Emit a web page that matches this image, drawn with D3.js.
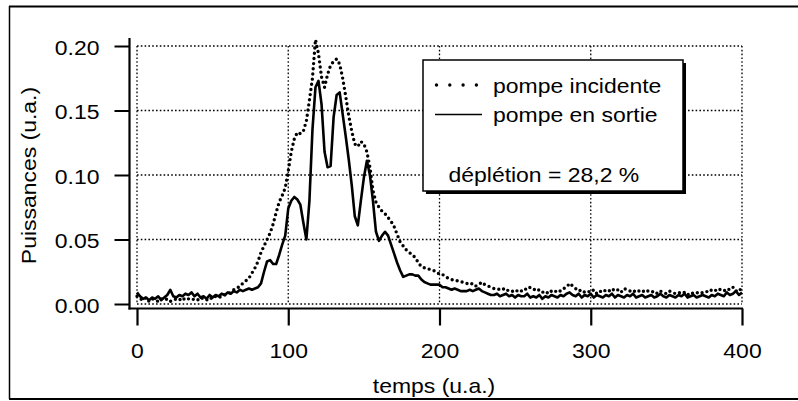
<!DOCTYPE html>
<html><head><meta charset="utf-8">
<script src="https://cdn.jsdelivr.net/npm/d3@7"></script>
<style>
body{margin:0;background:#fff}
svg{display:block;background:#fff}
text{font-family:"Liberation Sans",Arial,Helvetica,sans-serif;fill:#000}
</style>
</head><body><svg id="c" width="798" height="401"></svg>
<script>
// ---- data ----
const temps = [
  0,2,4,6,8,10,12,14,16,18,20,22,24,26,28,30,32,34,36,38,
  40,42,44,46,48,50,52,54,56,58,60,62,64,66,68,70,72,74,76,78,
  80,82,84,86,88,90,92,94,96,98,100,102,104,106,108,110,112,114,116,118,
  120,122,124,126,128,130,132,134,136,138,140,142,144,146,148,150,152,154,156,158,
  160,162,164,166,168,170,172,174,176,178,180,182,184,186,188,190,192,194,196,198,
  200,202,204,206,208,210,212,214,216,218,220,222,224,226,228,230,232,234,236,238,
  240,242,244,246,248,250,252,254,256,258,260,262,264,266,268,270,272,274,276,278,
  280,282,284,286,288,290,292,294,296,298,300,302,304,306,308,310,312,314,316,318,
  320,322,324,326,328,330,332,334,336,338,340,342,344,346,348,350,352,354,356,358,
  360,362,364,366,368,370,372,374,376,378,380,382,384,386,388,390,392,394,396,398,
  400
];
const pompeIncidente = [
  .006,.004,.003,.005,.002,.004,.003,.002,.004,.003,
  .004,.002,.003,.004,.003,.005,.003,.004,.003,.004,
  .003,.005,.004,.003,.005,.004,.006,.005,.006,.007,
  .008,.009,.011,.012,.014,.016,.018,.020,.024,.028,
  .033,.040,.045,.050,.055,.062,.071,.079,.084,.090,
  .103,.118,.128,.133,.132,.134,.142,.158,.175,.205,
  .194,.176,.168,.178,.185,.188,.190,.186,.175,.161,
  .146,.134,.124,.122,.126,.124,.118,.106,.088,.079,
  .075,.072,.070,.067,.064,.060,.054,.048,.045,.042,
  .040,.038,.036,.032,.029,.028,.027,.027,.026,.025,
  .023,.023,.021,.020,.019,.018,.018,.017,.017,.016,
  .015,.016,.014,.015,.017,.015,.014,.013,.012,.012,
  .011,.012,.010,.011,.010,.009,.011,.010,.012,.011,
  .013,.012,.010,.011,.009,.010,.008,.010,.009,.011,
  .010,.012,.013,.016,.014,.012,.010,.011,.009,.010,
  .009,.011,.008,.010,.009,.011,.010,.012,.010,.011,
  .009,.012,.011,.010,.009,.011,.010,.009,.011,.010,
  .009,.010,.008,.010,.009,.008,.010,.009,.008,.009,
  .008,.009,.007,.009,.008,.009,.008,.009,.010,.009,
  .011,.010,.012,.011,.010,.012,.011,.013,.010,.012,
  .010
];
const pompeSortie = [
  .009,.006,.004,.005,.003,.005,.004,.006,.003,.005,
  .007,.011,.006,.005,.007,.006,.008,.007,.009,.006,
  .008,.005,.006,.004,.007,.005,.007,.006,.008,.007,
  .009,.008,.010,.009,.011,.010,.011,.012,.011,.012,
  .013,.016,.025,.033,.034,.031,.031,.038,.046,.053,
  .074,.080,.083,.081,.077,.063,.050,.080,.135,.168,
  .173,.155,.118,.106,.107,.145,.162,.164,.147,.130,
  .112,.092,.068,.061,.080,.098,.111,.100,.080,.056,
  .049,.053,.056,.053,.046,.039,.032,.026,.021,.022,
  .023,.023,.022,.022,.019,.017,.016,.015,.015,.015,
  .015,.013,.013,.012,.011,.012,.011,.010,.010,.010,
  .011,.010,.011,.012,.010,.009,.008,.007,.007,.008,
  .006,.007,.008,.006,.007,.005,.007,.006,.006,.008,
  .005,.006,.005,.007,.004,.006,.005,.007,.006,.005,
  .007,.006,.008,.009,.007,.006,.008,.005,.007,.006,
  .008,.005,.007,.006,.005,.007,.006,.008,.005,.007,
  .006,.005,.007,.006,.008,.005,.006,.007,.005,.006,
  .007,.005,.006,.008,.006,.005,.007,.006,.005,.007,
  .006,.008,.005,.006,.007,.005,.006,.007,.006,.005,
  .007,.006,.008,.007,.006,.009,.007,.008,.010,.007,
  .009
];
const xTicks = [0, 100, 200, 300, 400];
const yTicks = [0, 0.05, 0.10, 0.15, 0.20];
const seriesNames = ["pompe incidente", "pompe en sortie"];
const noteText = "déplétion = 28,2 %";
const xTitle = "temps (u.a.)";
const yTitle = "Puissances (u.a.)";

// ---- drawing ----
const svg = d3.select("#c");
const FS = 20.5, SX = 1.12;
const x = d3.scaleLinear().domain([0, 400]).range([137, 742]);
const y = d3.scaleLinear().domain([0, 0.2]).range([304, 46]);

function label(txt, tx, ty, anchor, rot) {
  svg.append("text")
    .attr("transform", `translate(${tx},${ty})${rot ? ` rotate(${rot})` : ""} scale(${SX},1)`)
    .attr("text-anchor", anchor)
    .style("font-size", FS + "px")
    .text(txt);
}

// outer frame
const frame = svg.append("g").attr("stroke", "#000").attr("fill", "none");
frame.append("line").attr("x1", 9).attr("x2", 798).attr("y1", 6.5).attr("y2", 6.5).attr("stroke-width", 2);
frame.append("line").attr("x1", 9.5).attr("x2", 9.5).attr("y1", 6).attr("y2", 399).attr("stroke-width", 1.5);
frame.append("line").attr("x1", 9).attr("x2", 798).attr("y1", 399).attr("y2", 399).attr("stroke-width", 2);

// dotted grid
const grid = svg.append("g").attr("stroke", "#000").attr("stroke-width", 1.3).attr("stroke-dasharray", "1.6,2.2");
grid.selectAll(".gx").data(xTicks).join("line")
  .attr("x1", d => x(d)).attr("x2", d => x(d)).attr("y1", y(0.2)).attr("y2", y(0));
grid.selectAll(".gy").data(yTicks).join("line")
  .attr("y1", d => y(d)).attr("y2", d => y(d)).attr("x1", x(0)).attr("x2", x(400));

// y axis
const yAxis = svg.append("g").attr("transform", "translate(129.5,0)")
  .call(d3.axisLeft(y).tickValues(yTicks).tickSize(15).tickSizeOuter(0).tickPadding(15).tickFormat(d3.format(".2f")));
yAxis.attr("font-size", null).attr("font-family", null);
yAxis.select(".domain").remove();
yAxis.selectAll(".tick line").attr("stroke-width", 2);
yAxis.selectAll(".tick text").each(function () {
  const t = d3.select(this); const xx = +t.attr("x");
  t.attr("x", null).attr("dy", null).attr("fill", null)
   .attr("transform", `translate(${xx},8) scale(${SX},1)`).style("font-size", FS + "px");
});
svg.append("line").attr("x1", 129.5).attr("x2", 129.5).attr("y1", 38).attr("y2", 309.5)
  .attr("stroke", "#000").attr("stroke-width", 2.2);

// x axis
const xAxis = svg.append("g").attr("transform", "translate(0,308.5)")
  .call(d3.axisBottom(x).tickValues(xTicks).tickSize(17).tickSizeOuter(0).tickFormat(d3.format("d")));
xAxis.attr("font-size", null).attr("font-family", null);
xAxis.select(".domain").remove();
xAxis.selectAll(".tick line").attr("stroke-width", 2.2);
xAxis.selectAll(".tick text").each(function () {
  const t = d3.select(this);
  t.attr("y", null).attr("dy", null).attr("fill", null)
   .attr("transform", `translate(0,49.5) scale(${SX},1)`).style("font-size", FS + "px");
});
svg.append("line").attr("x1", 128.5).attr("x2", 743).attr("y1", 308.5).attr("y2", 308.5)
  .attr("stroke", "#000").attr("stroke-width", 2.2);

// series
const lineGen = d3.line().x((d, i) => x(temps[i])).y(d => y(d));
svg.append("path").datum(pompeSortie).attr("d", lineGen)
  .attr("fill", "none").attr("stroke", "#000").attr("stroke-width", 2.6).attr("stroke-linejoin", "round");
svg.append("path").datum(pompeIncidente).attr("d", lineGen)
  .attr("fill", "none").attr("stroke", "#000").attr("stroke-width", 3.4)
  .attr("stroke-linecap", "round").attr("stroke-dasharray", "0,5.2");

// titles
label(xTitle, 434, 393, "middle");
label(yTitle, 36, 175.5, "middle", -90);

// legend
const lg = svg.append("g");
lg.append("rect").attr("x", 426).attr("y", 63).attr("width", 260).attr("height", 131).attr("fill", "#000");
lg.append("rect").attr("x", 423).attr("y", 60).attr("width", 260).attr("height", 131)
  .attr("fill", "#fff").attr("stroke", "#000").attr("stroke-width", 1.5);
lg.append("line").attr("x1", 436.5).attr("x2", 478).attr("y1", 85).attr("y2", 85)
  .attr("stroke", "#000").attr("stroke-width", 3.4).attr("stroke-linecap", "round").attr("stroke-dasharray", "0,13.3");
lg.append("line").attr("x1", 435).attr("x2", 482).attr("y1", 114.5).attr("y2", 114.5)
  .attr("stroke", "#000").attr("stroke-width", 1.6);
label(seriesNames[0], 493, 92.5, "start");
label(seriesNames[1], 493, 122.3, "start");
label(noteText, 448.5, 182.3, "start");
</script>
</body></html>
